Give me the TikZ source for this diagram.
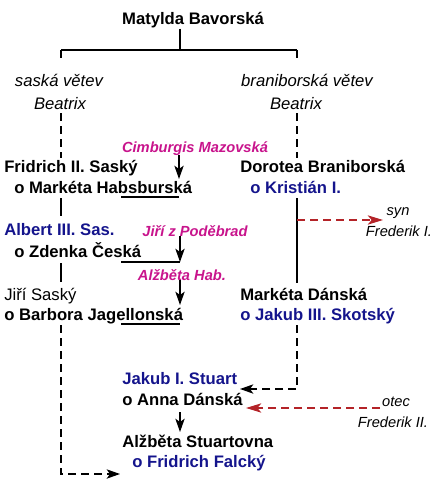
\documentclass[tikz,border=0pt]{standalone}
\usepackage{fontspec}
\setmainfont{Liberation Sans}
\usetikzlibrary{arrows.meta}
\definecolor{rulername}{RGB}{20,20,140}
\definecolor{wifeparent}{RGB}{200,20,140}
\definecolor{heirred}{RGB}{180,35,40}
\begin{document}
\begin{tikzpicture}[x=0.75pt,y=-0.75pt]
 \tikzset{person/.style={anchor=base west,inner sep=0pt,font=\fontsize{12.5}{15}\selectfont\bfseries},
  plainperson/.style={anchor=base west,inner sep=0pt,font=\fontsize{12.5}{15}\selectfont},
  branchlabel/.style={anchor=base,inner sep=0pt,font=\fontsize{12.5}{15}\selectfont\itshape},
  wifeparentlabel/.style={anchor=base,inner sep=0pt,text=wifeparent,font=\fontsize{11}{13}\selectfont\bfseries\itshape},
  note/.style={anchor=base,inner sep=0pt,font=\fontsize{11}{13}\selectfont\itshape},
  line/.style={line width=1pt},
  skip/.style={line width=1pt,dash pattern=on 6pt off 3.75pt},
  directed/.style={-{Stealth[length=10pt,width=7pt,inset=2.5pt]}},
  reddirected/.style={-{Stealth[length=11.5pt,width=7pt,inset=3pt]}}}
 \useasboundingbox (0,0) rectangle (433,485);
 % names
 \node[person,anchor=base] (matylda) at (193,25) {Matylda Bavorská};
 \node[branchlabel] (saska) at (59,87) {saská větev};
 \node[branchlabel] (beatrixL) at (60,109) {Beatrix};
 \node[branchlabel] (brani) at (307,87) {braniborská větev};
 \node[branchlabel] (beatrixR) at (296,109) {Beatrix};
 \node[wifeparentlabel] (cimburgis) at (195,152) {Cimburgis Mazovská};
 \node[person] (fridrich) at (4,172) {Fridrich II. Saský};
 \node[person] (marketaH) at (14,193) {o Markéta Habsburská};
 \node[person,text=rulername] (albert) at (4,235) {Albert III. Sas.};
 \node[wifeparentlabel] (jiriP) at (195,236) {Jiří z Poděbrad};
 \node[person] (zdenka) at (14,257) {o Zdenka Česká};
 \node[wifeparentlabel] (alzbetaH) at (182,280) {Alžběta Hab.};
 \node[plainperson] (jiriS) at (4,300) {Jiří Saský};
 \node[person] (barbora) at (4,320) {o Barbora Jagellonská};
 \node[person] (dorotea) at (240,172) {Dorotea Braniborská};
 \node[person,text=rulername] (kristian) at (250,193) {o Kristián I.};
 \node[person] (marketaD) at (240,300) {Markéta Dánská};
 \node[person,text=rulername] (jakubIII) at (240,320) {o Jakub III. Skotský};
 \node[person,text=rulername] (jakubI) at (122,384) {Jakub I. Stuart};
 \node[person] (anna) at (122,405) {o Anna Dánská};
 \node[person] (alzbetaS) at (122,447) {Alžběta Stuartovna};
 \node[person,text=rulername] (fridrichF) at (132,467) {o Fridrich Falcký};
 \node[note] (syn) at (398,215) {syn};
 \node[note] (frederikI) at (399,236) {Frederik I.};
 \node[note] (otec) at (396,406) {otec};
 \node[note] (frederikII) at (393,427) {Frederik II.};
 % tree
 \coordinate (fork) at (180,50);
 \coordinate (sasTop) at (61,50);
 \coordinate (braTop) at (297,50);
 \draw[line] (matylda.south -| fork) -- (fork);
 \draw[line] (sasTop) -- (braTop);
 \draw[skip] (sasTop) -- (61,63);
 \draw[skip] (61,113) -- (61,158);
 \draw[line] (61,198) -- (61,216);
 \draw[line] (61,263) -- (61,282);
 \coordinate (sasBend) at (61,474);
 \coordinate (alzbetaIn) at (120,474);
 \draw[skip,directed] (61,325) -- (sasBend) -- (alzbetaIn);
 \draw[skip] (braTop) -- (297,63);
 \draw[skip] (297,113) -- (297,158);
 \draw[line] (297,198) -- (297,283);
 \coordinate (braBend) at (297,389);
 \coordinate (jakubIn) at (240,389);
 \draw[skip,directed] (297,325) -- (braBend) -- (jakubIn);
 % wives' parents
 \coordinate (cimbTip) at (179,179);
 \draw[line,directed] (cimburgis.south -| cimbTip) -- (cimbTip);
 \draw[line] (121,197) -- (179,197);
 \coordinate (jiriTip) at (180,262);
 \draw[line,directed] (jiriP.south -| jiriTip) -- (jiriTip);
 \draw[line] (121,262) -- (jiriTip);
 \coordinate (alzbetaTip) at (180,305);
 \draw[line,directed] (alzbetaH.south -| alzbetaTip) -- (alzbetaTip);
 \draw[line] (121,324) -- (180,324);
 \coordinate (annaOut) at (180,412);
 \coordinate (alzbetaSIn) at (180,432);
 \draw[line,directed] (annaOut) -- (alzbetaSIn);
 % Danish line
 \coordinate (synFrom) at (297,220);
 \coordinate (synTo) at (383,220);
 \draw[skip,heirred,reddirected] (synFrom) -- (synTo);
 \coordinate (otecFrom) at (380,408);
 \coordinate (otecTo) at (246,408);
 \draw[skip,heirred,reddirected] (otecFrom) -- (otecTo);
\end{tikzpicture}
\end{document}
